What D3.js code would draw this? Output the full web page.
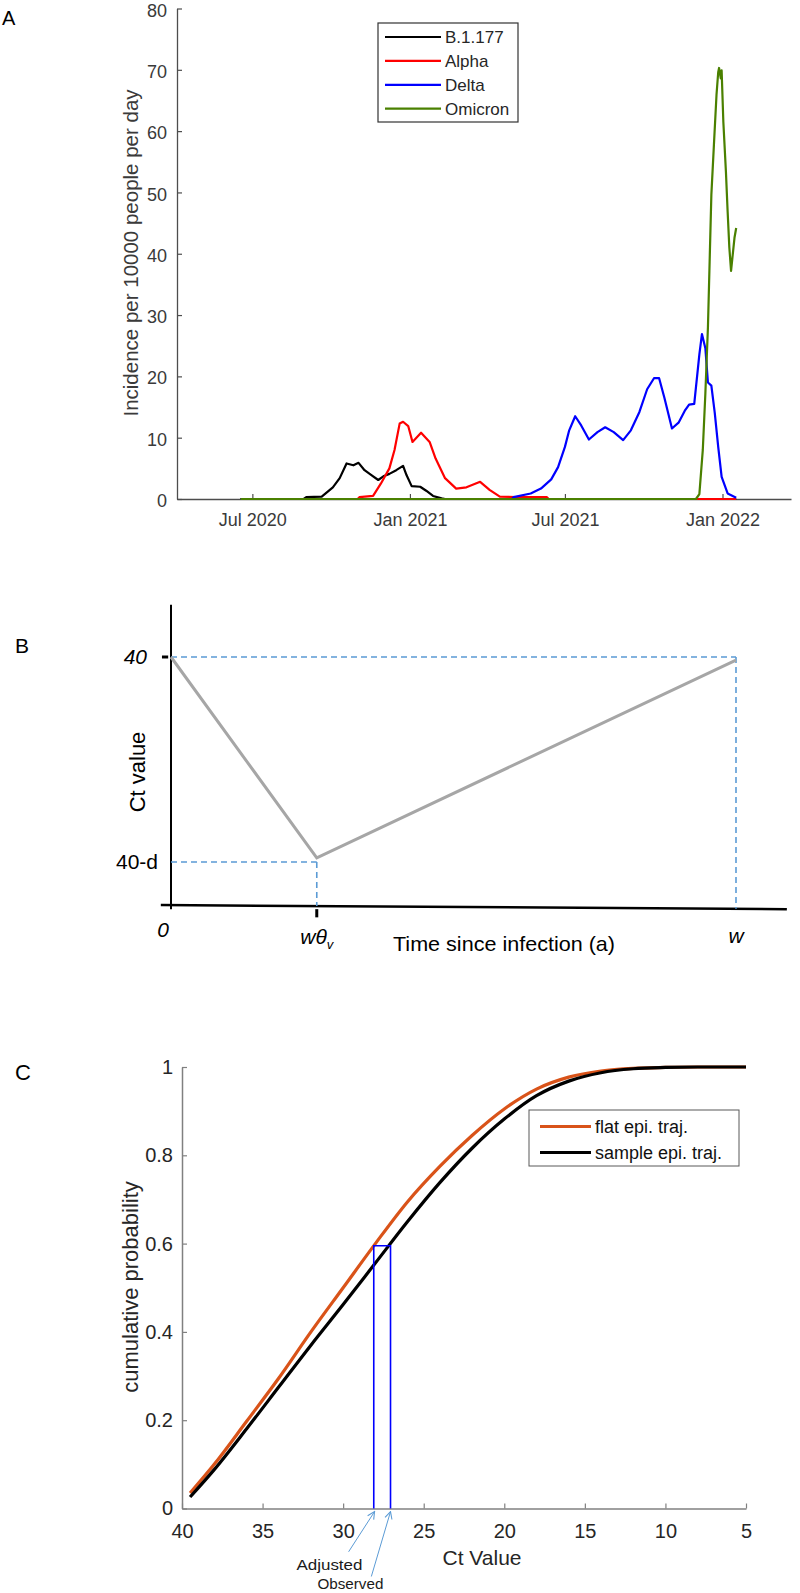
<!DOCTYPE html>
<html>
<head>
<meta charset="utf-8">
<script src="https://cdn.jsdelivr.net/npm/d3@7"></script>
<style>
    body { margin: 0; background: #fff; }
    svg { display: block; font-family: "Liberation Sans", Arial, sans-serif; }
</style>
</head>
<body>
<div id="chart"></div>
<script>
// ---------- Panel A data: incidence per 10000 people per day ----------
const b1177Dates = ["2020-06-17", "2020-08-30", "2020-09-02", "2020-09-20", "2020-10-03", "2020-10-11", "2020-10-19", "2020-10-27", "2020-11-02", "2020-11-09", "2020-11-17", "2020-11-25", "2020-12-01", "2020-12-08", "2020-12-16", "2020-12-24", "2020-12-28", "2021-01-03", "2021-01-13", "2021-01-20", "2021-01-28", "2021-02-07", "2021-02-11", "2022-01-17"];
const b1177Vals = [0, 0, 0.3, 0.4, 1.9, 3.4, 5.8, 5.5, 5.9, 4.7, 3.9, 3.1, 3.7, 4.1, 4.7, 5.4, 3.9, 2.1, 2.0, 1.35, 0.5, 0.1, 0, 0];

const alphaDates = ["2020-06-17", "2020-11-01", "2020-11-03", "2020-11-19", "2020-11-28", "2020-12-08", "2020-12-14", "2020-12-20", "2020-12-24", "2020-12-30", "2021-01-04", "2021-01-14", "2021-01-24", "2021-01-31", "2021-02-11", "2021-02-24", "2021-03-08", "2021-03-24", "2021-04-04", "2021-04-16", "2021-05-05", "2021-06-10", "2021-06-12", "2022-01-17"];
const alphaVals = [0, 0, 0.3, 0.5, 2.5, 5.0, 8.0, 12.3, 12.6, 11.9, 9.3, 10.8, 9.3, 6.6, 3.4, 1.7, 1.9, 2.8, 1.5, 0.4, 0.3, 0.3, 0, 0];

const deltaDates = ["2020-06-17", "2021-04-30", "2021-05-02", "2021-05-22", "2021-06-03", "2021-06-15", "2021-06-23", "2021-07-01", "2021-07-06", "2021-07-13", "2021-07-20", "2021-07-29", "2021-08-08", "2021-08-17", "2021-08-27", "2021-09-07", "2021-09-16", "2021-09-26", "2021-10-05", "2021-10-13", "2021-10-19", "2021-10-25", "2021-11-03", "2021-11-11", "2021-11-18", "2021-11-23", "2021-11-29", "2021-12-05", "2021-12-08", "2021-12-12", "2021-12-15", "2021-12-19", "2021-12-23", "2021-12-27", "2021-12-31", "2022-01-07", "2022-01-17"];
const deltaVals = [0, 0, 0.3, 0.9, 1.7, 3.2, 5.2, 8.5, 11.2, 13.5, 12.0, 9.7, 10.9, 11.7, 10.9, 9.6, 11.2, 14.2, 17.9, 19.7, 19.7, 16.6, 11.5, 12.5, 14.4, 15.4, 15.5, 23.6, 26.9, 24.6, 19.0, 18.5, 14.0, 8.5, 3.6, 0.9, 0.2];

const omicronDates = ["2020-06-17", "2021-12-01", "2021-12-05", "2021-12-09", "2021-12-12", "2021-12-15", "2021-12-17", "2021-12-19", "2021-12-22", "2021-12-25", "2021-12-27", "2021-12-28", "2021-12-30", "2021-12-31", "2022-01-02", "2022-01-05", "2022-01-07", "2022-01-09", "2022-01-11", "2022-01-13", "2022-01-15", "2022-01-17"];
const omicronVals = [0, 0, 0.8, 8.0, 17.2, 28.0, 38.8, 49.6, 57.8, 65.9, 69.6, 70.3, 68.6, 69.9, 61.5, 53.4, 46.9, 41.0, 37.2, 39.9, 42.6, 44.2];

const variantNames = ["B.1.177", "Alpha", "Delta", "Omicron"];
const incidenceTicks = [0, 10, 20, 30, 40, 50, 60, 70, 80];
const monthTicks = ["2020-07-01", "2021-01-01", "2021-07-01", "2022-01-01"];

// ---------- Panel B data: schematic Ct trajectory ----------
const trajTime = [0, 0.258, 1];        // 0, w*theta_v, w
const trajCt = [40, 30.2, 39.85];      // 40, 40-d, 40
const ctMarks = [40, 30];
const ctMarkLabels = ["40", "40-d"];

// ---------- Panel C data: cumulative probability vs Ct ----------
const ctGrid = [39.5, 38, 36, 34, 32, 30, 28, 26, 24, 22, 20, 18, 16, 14, 12, 10, 8, 6, 5];
const flatCum = [0.035, 0.10, 0.197, 0.295, 0.40, 0.50, 0.60, 0.695, 0.775, 0.845, 0.905, 0.95, 0.977, 0.991, 0.997, 0.999, 1.0, 1.0, 1.0];
const sampleCum = [0.026, 0.088, 0.18, 0.275, 0.37, 0.462, 0.556, 0.65, 0.738, 0.816, 0.882, 0.935, 0.968, 0.987, 0.996, 0.999, 1.0, 1.0, 1.0];
const cumTicks = [0, 0.2, 0.4, 0.6, 0.8, 1];
const ctTicks = [40, 35, 30, 25, 20, 15, 10, 5];
const adjustedCt = 28.1;
const observedCt = 27.06;
const matchedCum = 0.595;

const parseDate = d3.timeParse("%Y-%m-%d");

var svg = d3
    .select("#chart")
    .append("svg")
    .attr("width", 800)
    .attr("height", 1593);

// =====================================================================
// Panel A
// =====================================================================
var gA = svg.append("g");
var axisGrey = "#4d4d4d";

var xA = d3
    .scaleTime()
    .domain([parseDate("2020-04-04"), parseDate("2022-03-22")])
    .range([177, 791]);
var yA = d3.scaleLinear().domain([0, 80]).range([499, 8.5]);

var xAxisA = gA
    .append("g")
    .attr("transform", `translate(0,${yA(0)})`)
    .call(
        d3
            .axisBottom(xA)
            .tickValues(monthTicks.map(parseDate))
            .tickFormat(d3.timeFormat("%b %Y"))
            .tickSizeInner(-5)
            .tickSizeOuter(0)
            .tickPadding(14)
    );
var yAxisA = gA
    .append("g")
    .attr("transform", `translate(${xA.range()[0]},0)`)
    .call(
        d3
            .axisLeft(yA)
            .tickValues(incidenceTicks)
            .tickSizeInner(-5)
            .tickSizeOuter(0)
            .tickPadding(10)
    );

[xAxisA, yAxisA].forEach(function (ax) {
    ax.select(".domain").attr("stroke", axisGrey).attr("stroke-width", 1.3);
    ax.selectAll(".tick line").attr("stroke", axisGrey).attr("stroke-width", 1.2);
    ax.selectAll(".tick text")
        .attr("fill", "#3a3a3a")
        .attr("font-size", 18)
        .attr("font-family", "Liberation Sans, Arial, sans-serif");
});
//keep the top label inside the picture
yAxisA.selectAll(".tick text").attr("dy", "0.42em");

gA.append("text")
    .attr("transform", "translate(130,253) rotate(-90)")
    .attr("text-anchor", "middle")
    .attr("dominant-baseline", "central")
    .attr("font-size", 20.5)
    .attr("fill", "#3a3a3a")
    .text("Incidence per 10000 people per day");

gA.append("text")
    .attr("x", 2)
    .attr("y", 25)
    .attr("font-size", 20)
    .text("A");

//Build each variant series from its date and value arrays
var variants = [
    { name: variantNames[0], color: "#000000", dates: b1177Dates, vals: b1177Vals },
    { name: variantNames[1], color: "#ff0000", dates: alphaDates, vals: alphaVals },
    { name: variantNames[2], color: "#0000ff", dates: deltaDates, vals: deltaVals },
    { name: variantNames[3], color: "#4a8000", dates: omicronDates, vals: omicronVals },
];

var lineA = d3
    .line()
    .x(function (d) { return xA(d.date); })
    .y(function (d) { return yA(d.value); });

variants.forEach(function (v) {
    var pts = v.dates.map(function (d, i) {
        return { date: parseDate(d), value: v.vals[i] };
    });
    gA.append("path")
        .datum(pts)
        .attr("fill", "none")
        .attr("stroke", v.color)
        .attr("stroke-width", 2.2)
        .attr("stroke-linejoin", "round")
        .attr("d", lineA);
});

//Legend
var legA = gA.append("g").attr("transform", "translate(378,23)");
legA.append("rect")
    .attr("width", 140)
    .attr("height", 99)
    .attr("fill", "#fff")
    .attr("stroke", "#333")
    .attr("stroke-width", 1.2);
variants.forEach(function (v, i) {
    var ly = 14 + i * 23.9;
    legA.append("line")
        .attr("x1", 7)
        .attr("x2", 63)
        .attr("y1", ly)
        .attr("y2", ly)
        .attr("stroke", v.color)
        .attr("stroke-width", 2.2);
    legA.append("text")
        .attr("x", 67)
        .attr("y", ly)
        .attr("dy", "0.35em")
        .attr("font-size", 17)
        .attr("fill", "#262626")
        .text(v.name);
});

// =====================================================================
// Panel B
// =====================================================================
var gB = svg.append("g");
var xB = d3.scaleLinear().domain([0, 1]).range([171, 736]);
var yB = d3.scaleLinear().domain([30, 40]).range([862, 657]);
var dashBlue = "#5b9bd5";

gB.append("text")
    .attr("x", 15)
    .attr("y", 653)
    .attr("font-size", 21)
    .text("B");

//Axes (hand drawn style schematic)
gB.append("line")
    .attr("x1", xB(0))
    .attr("x2", xB(0))
    .attr("y1", yB(42.55))
    .attr("y2", yB(27.7))
    .attr("stroke", "#000")
    .attr("stroke-width", 2);
gB.append("line")
    .attr("x1", xB(-0.018))
    .attr("y1", yB(27.9))
    .attr("x2", xB(1.09))
    .attr("y2", yB(27.7))
    .attr("stroke", "#000")
    .attr("stroke-width", 2.5);

//Dashed guides
var guides = [
    [[trajTime[0], 40], [trajTime[2], 40]],
    [[trajTime[2], 40], [trajTime[2], 27.72]],
    [[trajTime[0], 30], [trajTime[1], 30]],
    [[trajTime[1], 30], [trajTime[1], 27.85]],
];
guides.forEach(function (g) {
    gB.append("line")
        .attr("x1", xB(g[0][0]))
        .attr("y1", yB(g[0][1]))
        .attr("x2", xB(g[1][0]))
        .attr("y2", yB(g[1][1]))
        .attr("stroke", dashBlue)
        .attr("stroke-width", 1.6)
        .attr("stroke-dasharray", "6,4");
});

//Trajectory
gB.append("path")
    .datum(trajTime.map(function (t, i) { return [t, trajCt[i]]; }))
    .attr("fill", "none")
    .attr("stroke", "#a6a6a6")
    .attr("stroke-width", 3)
    .attr("d", d3.line().x(function (d) { return xB(d[0]); }).y(function (d) { return yB(d[1]); }));

//Ticks
gB.append("line")
    .attr("x1", xB(-0.016))
    .attr("x2", xB(-0.005))
    .attr("y1", yB(40))
    .attr("y2", yB(40))
    .attr("stroke", "#000")
    .attr("stroke-width", 3);
gB.append("line")
    .attr("x1", xB(trajTime[1]))
    .attr("x2", xB(trajTime[1]))
    .attr("y1", yB(27.7))
    .attr("y2", yB(27.3))
    .attr("stroke", "#000")
    .attr("stroke-width", 3);

//Tick labels
ctMarks.forEach(function (c, i) {
    gB.append("text")
        .attr("x", i === 0 ? 147 : 158)
        .attr("y", yB(c))
        .attr("dy", "0.35em")
        .attr("text-anchor", "end")
        .attr("font-size", 21)
        .attr("font-style", i === 0 ? "italic" : "normal")
        .text(ctMarkLabels[i]);
});

gB.append("text")
    .attr("x", xB(-0.014))
    .attr("y", 937)
    .attr("text-anchor", "middle")
    .attr("font-size", 21)
    .attr("font-style", "italic")
    .text("0");

var wTheta = gB.append("text")
    .attr("x", xB(trajTime[1]))
    .attr("y", 944)
    .attr("text-anchor", "middle")
    .attr("font-size", 21)
    .attr("font-style", "italic");
wTheta.append("tspan").text("w\u03B8");
wTheta.append("tspan").attr("font-size", 13).attr("dy", 5).text("v");

gB.append("text")
    .attr("x", xB(trajTime[2]))
    .attr("y", 943)
    .attr("text-anchor", "middle")
    .attr("font-size", 21)
    .attr("font-style", "italic")
    .text("w");

gB.append("text")
    .attr("x", 504)
    .attr("y", 951)
    .attr("text-anchor", "middle")
    .attr("font-size", 21)
    .attr("textLength", 222)
    .attr("lengthAdjust", "spacingAndGlyphs")
    .text("Time since infection (a)");

gB.append("text")
    .attr("transform", "translate(137,772) rotate(-90)")
    .attr("text-anchor", "middle")
    .attr("dominant-baseline", "central")
    .attr("font-size", 22)
    .text("Ct value");

// =====================================================================
// Panel C
// =====================================================================
var gC = svg.append("g");
var xC = d3.scaleLinear().domain([40, 5]).range([182, 746]);
var yC = d3.scaleLinear().domain([0, 1]).range([1508.5, 1067]);
var greyC = "#808080";

gC.append("text")
    .attr("x", 15)
    .attr("y", 1080)
    .attr("font-size", 22)
    .text("C");

var xAxisC = gC
    .append("g")
    .attr("transform", `translate(0,${yC(0)})`)
    .call(
        d3
            .axisBottom(xC)
            .tickValues(ctTicks)
            .tickSizeInner(-5)
            .tickSizeOuter(0)
            .tickPadding(15)
    );
var yAxisC = gC
    .append("g")
    .attr("transform", `translate(${xC(40)},0)`)
    .call(
        d3
            .axisLeft(yC)
            .tickValues(cumTicks)
            .tickFormat(d3.format("~g"))
            .tickSizeInner(-5)
            .tickSizeOuter(0)
            .tickPadding(9)
    );
[xAxisC, yAxisC].forEach(function (ax) {
    ax.select(".domain").attr("stroke", greyC).attr("stroke-width", 1.5);
    ax.selectAll(".tick line").attr("stroke", greyC).attr("stroke-width", 1.2);
    ax.selectAll(".tick text")
        .attr("fill", "#262626")
        .attr("font-size", 20)
        .attr("font-family", "Liberation Sans, Arial, sans-serif");
});

gC.append("text")
    .attr("transform", "translate(130,1287) rotate(-90)")
    .attr("text-anchor", "middle")
    .attr("dominant-baseline", "central")
    .attr("font-size", 22)
    .attr("fill", "#262626")
    .text("cumulative probability");

gC.append("text")
    .attr("x", 482)
    .attr("y", 1565)
    .attr("text-anchor", "middle")
    .attr("font-size", 21)
    .attr("fill", "#262626")
    .text("Ct Value");

var lineC = d3
    .line()
    .curve(d3.curveMonotoneX)
    .x(function (d) { return xC(d[0]); })
    .y(function (d) { return yC(d[1]); });

var cdfSeries = [
    { name: "flat epi. traj.", color: "#d95319", vals: flatCum },
    { name: "sample epi. traj.", color: "#000000", vals: sampleCum },
];
cdfSeries.forEach(function (s) {
    gC.append("path")
        .datum(ctGrid.map(function (c, i) { return [c, s.vals[i]]; }))
        .attr("fill", "none")
        .attr("stroke", s.color)
        .attr("stroke-width", 3.2)
        .attr("d", lineC);
});

//Matching box between the curves
gC.append("path")
    .attr("fill", "none")
    .attr("stroke", "#0000ff")
    .attr("stroke-width", 1.6)
    .attr(
        "d",
        d3.line()([
            [xC(adjustedCt), yC(0)],
            [xC(adjustedCt), yC(matchedCum)],
            [xC(observedCt), yC(matchedCum)],
            [xC(observedCt), yC(0)],
        ])
    );

//Legend
var legC = gC.append("g").attr("transform", "translate(529,1110)");
legC.append("rect")
    .attr("width", 210)
    .attr("height", 56)
    .attr("fill", "#fff")
    .attr("stroke", "#595959")
    .attr("stroke-width", 1);
cdfSeries.forEach(function (s, i) {
    var ly = 16.5 + i * 26;
    legC.append("line")
        .attr("x1", 11)
        .attr("x2", 62)
        .attr("y1", ly)
        .attr("y2", ly)
        .attr("stroke", s.color)
        .attr("stroke-width", 3.2);
    legC.append("text")
        .attr("x", 66)
        .attr("y", ly)
        .attr("dy", "0.35em")
        .attr("font-size", 18)
        .attr("fill", "#111")
        .text(s.name);
});

//Annotation arrows
var defs = svg.append("defs");
defs.append("marker")
    .attr("id", "openArrow")
    .attr("viewBox", "0 0 10 10")
    .attr("refX", 9)
    .attr("refY", 5)
    .attr("markerWidth", 9)
    .attr("markerHeight", 9)
    .attr("orient", "auto")
    .attr("markerUnits", "userSpaceOnUse")
    .append("path")
    .attr("d", "M1,1 L9,5 L1,9")
    .attr("fill", "none")
    .attr("stroke", dashBlue)
    .attr("stroke-width", 1.2);

var notes = [
    { label: "Adjusted", from: [29.66, -0.098], to: [adjustedCt - 0.05, -0.007], text: [30.85, -0.139] },
    { label: "Observed", from: [28.25, -0.154], to: [observedCt, -0.007], text: [29.55, -0.182] },
];
notes.forEach(function (n) {
    gC.append("line")
        .attr("x1", xC(n.from[0]))
        .attr("y1", yC(n.from[1]))
        .attr("x2", xC(n.to[0]))
        .attr("y2", yC(n.to[1]))
        .attr("stroke", dashBlue)
        .attr("stroke-width", 1)
        .attr("marker-end", "url(#openArrow)");
    gC.append("text")
        .attr("x", xC(n.text[0]))
        .attr("y", yC(n.text[1]))
        .attr("text-anchor", "middle")
        .attr("font-size", 15)
        .attr("textLength", 66)
        .attr("lengthAdjust", "spacingAndGlyphs")
        .attr("fill", "#1a1a1a")
        .text(n.label);
});
</script>
</body>
</html>
